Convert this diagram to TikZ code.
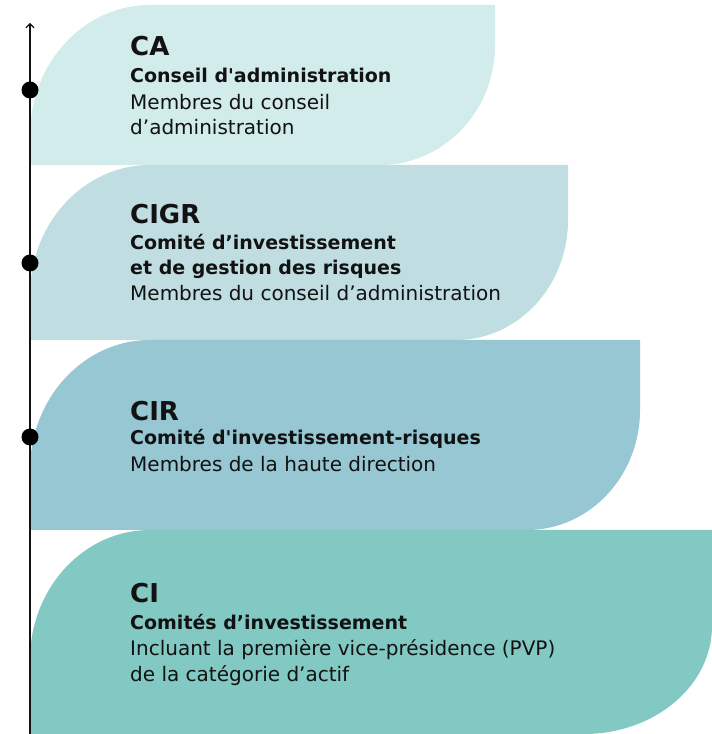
\documentclass[tikz,border=0pt]{standalone}
\usepackage{fontspec}
\setmainfont{DejaVu Sans}
\usetikzlibrary{arrows.meta}
\definecolor{cA}{HTML}{D2EBEB}
\definecolor{cB}{HTML}{C0DDE2}
\definecolor{cC}{HTML}{96C7D2}
\definecolor{cD}{HTML}{82C9C3}
\definecolor{ink}{HTML}{121212}
\begin{document}
\begin{tikzpicture}[x=1pt,y=1pt,
  ttl/.style={anchor=base west,inner sep=0pt,text=ink,font=\fontsize{26}{26}\selectfont\bfseries},
  sub/.style={anchor=base west,inner sep=0pt,text=ink,font=\fontsize{19}{19}\selectfont\bfseries},
  desc/.style={anchor=base west,inner sep=0pt,text=ink,font=\fontsize{20}{20}\selectfont},
  dotc/.style={circle,fill=black,inner sep=0pt,minimum size=17pt},
  axis/.style={line width=1.3pt,draw=ink,-{Straight Barb[length=4pt,width=8pt,line width=1.1pt]}}]
\useasboundingbox (0,0) rectangle (712,734);
% boxes
\fill[cA] (30,569) -- (30,599) arc[start angle=180,end angle=90,x radius=120,y radius=130]
  -- (495,729) -- (495,689) arc[start angle=0,end angle=-90,x radius=115,y radius=120] -- cycle;
\fill[cB] (30,394) -- (30,439) arc[start angle=180,end angle=90,x radius=120,y radius=130]
  -- (568,569) -- (568,514) arc[start angle=0,end angle=-90,x radius=112,y radius=120] -- cycle;
\fill[cC] (30,204) -- (30,264) arc[start angle=180,end angle=90,x radius=120,y radius=130]
  -- (640,394) -- (640,324) arc[start angle=0,end angle=-90,x radius=113,y radius=120] -- cycle;
\fill[cD] (30,0) -- (30,74) arc[start angle=180,end angle=90,x radius=120,y radius=130]
  -- (712,204) -- (712,108) arc[start angle=0,end angle=-90,x radius=128,y radius=108] -- cycle;
% axis
\coordinate (axb) at (30,0);
\coordinate (axt) at (30,711);
\draw[axis] (axb) -- (axt);
\node[dotc] (d1) at (30,644) {};
\node[dotc] (d2) at (30,471) {};
\node[dotc] (d3) at (30,297) {};
% texts box 1
\node[ttl] (t1) at (130,678) {CA};
\node[sub] (s1) at (130,651) {Conseil d\textquotesingle administration};
\node[desc] (m1a) at (130,624) {Membres du conseil};
\node[desc] (m1b) at (130,599) {d’administration};
% texts box 2
\node[ttl] (t2) at (130,510) {CIGR};
\node[sub] (s2a) at (130,484) {Comité d’investissement};
\node[sub] (s2b) at (130,459) {et de gestion des risques};
\node[desc] (m2) at (130,433) {Membres du conseil d’administration};
% texts box 3
\node[ttl] (t3) at (130,313) {CIR};
\node[sub] (s3) at (130,289) {Comité d\textquotesingle investissement-risques};
\node[desc] (m3) at (130,262) {Membres de la haute direction};
% texts box 4
\node[ttl] (t4) at (130,131) {CI};
\node[sub] (s4) at (130,104) {Comités d’investissement};
\node[desc] (m4a) at (130,78) {Incluant la première vice-présidence (PVP)};
\node[desc] (m4b) at (130,52) {de la catégorie d’actif};
\end{tikzpicture}
\end{document}
